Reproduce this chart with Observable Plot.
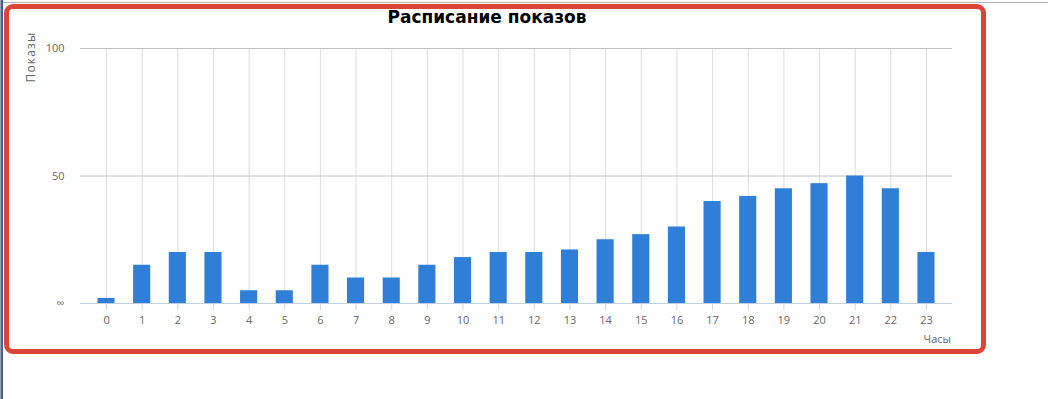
<!DOCTYPE html>
<html>
<head>
<meta charset="utf-8">
<script src="https://cdn.jsdelivr.net/npm/d3@7"></script>
<script src="https://cdn.jsdelivr.net/npm/@observablehq/plot@0.6"></script>
<style>
  html, body { margin: 0; padding: 0; background: #fff; }
  #wrap { position: relative; width: 1048px; height: 399px; overflow: hidden; }
  #wrap svg { position: absolute; left: 0; top: 0; }
  .deco { position: absolute; }
  #title { position: absolute; left: 0; top: 7px; width: 974px; text-align: center;
           font-family: "DejaVu Sans", sans-serif; font-weight: bold; font-size: 17px; color: #000; }
  #ytitle { position: absolute; left: 30px; top: 57px; transform: translate(-50%, -50%) rotate(-90deg);
            font-family: "Open Sans", sans-serif; font-size: 12px; letter-spacing: 1.2px; color: #666; white-space: nowrap; }
  #xtitle { position: absolute; right: 97px; top: 331px;
            font-family: "Open Sans", sans-serif; font-size: 11px; color: #666; }
</style>
</head>
<body>
<div id="wrap">
  <div class="deco" style="left:0;top:2px;width:1048px;height:1px;background:#b0b0b0"></div>
  <div class="deco" style="left:0;top:0;width:1px;height:399px;background:#9aa4b4"></div>
  <div class="deco" style="left:1px;top:0;width:2px;height:399px;background:#3f5f9e"></div>
  <div id="chart"></div>
  <div class="deco" style="left:4px;top:4px;width:982px;height:350px;box-sizing:border-box;border:5px solid #db4437;border-radius:9px"></div>
  <div id="title">Расписание показов</div>
  <div id="ytitle">Показы</div>
  <div id="xtitle">Часы</div>
</div>
<script>
const hours = [0, 1, 2, 3, 4, 5, 6, 7, 8, 9, 10, 11, 12, 13, 14, 15, 16, 17, 18, 19, 20, 21, 22, 23];
const shows = [2, 15, 20, 20, 5, 5, 15, 10, 10, 15, 18, 20, 20, 21, 25, 27, 30, 40, 42, 45, 47, 50, 45, 20];
const yTicks = [0, 50, 100];
const yTickLabels = ["∞", "50", "100"];

const chart = Plot.plot({
  width: 1048,
  height: 399,
  marginLeft: 80,
  marginRight: 96,
  marginTop: 48,
  marginBottom: 96,
  style: { fontFamily: "Open Sans, sans-serif", fontSize: "11px", color: "#666", background: "transparent", overflow: "visible" },
  x: { type: "band", domain: hours, paddingInner: 0.52, paddingOuter: 0.49, round: false, label: null },
  y: { domain: [0, 100], label: null },
  marks: [
    Plot.ruleX(hours, { x: d => d, y1: 0, y2: 100, stroke: "#dedede", strokeOpacity: 1 }),
    Plot.ruleY(yTicks.filter(d => d > 0), { y: d => d, stroke: "#c0c0c0", strokeOpacity: 1 }),
    Plot.barY(hours, { x: hours, y: shows, fill: "#2f7ed8" }),
    Plot.ruleY([0], { stroke: "#c0d0e0", strokeOpacity: 1 }),
    Plot.axisX({ tickSize: 7, tickPadding: 6, stroke: "#d0d8e4", fill: "#666", label: null }),
    Plot.axisY({ ticks: yTicks, tickSize: 0, tickPadding: 16, fill: "#666",
                 tickFormat: d => yTickLabels[yTicks.indexOf(d)], label: null })
  ]
});
document.getElementById("chart").appendChild(chart);
</script>
</body>
</html>
